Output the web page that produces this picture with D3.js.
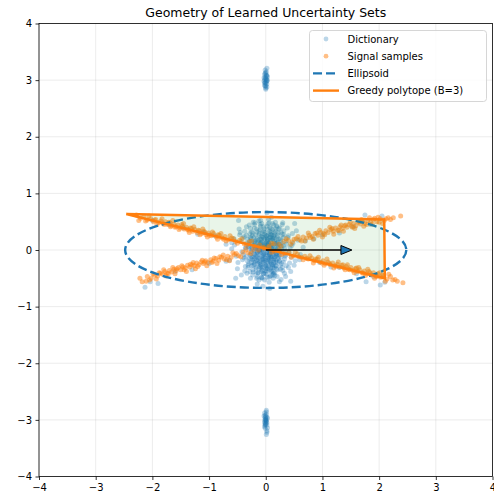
<!DOCTYPE html>
<html>
<head>
<meta charset="utf-8">
<script src="https://cdn.jsdelivr.net/npm/d3@7"></script>
<style>
  html, body { margin: 0; padding: 0; background: #fff; }
  svg { display: block; font-family: "DejaVu Sans", sans-serif; }
</style>
</head>
<body>
<svg id="chart" width="494" height="499"></svg>
<script>
// ---- data -------------------------------------------------------------
const ticks = [-4, -3, -2, -1, 0, 1, 2, 3, 4];

// dictionary atoms: dense core around the origin
const dictCore = [
[0.05,0.12],[-0.18,0.03],[0.22,-0.15],[-0.07,-0.31],[0.31,0.08],[-0.26,0.21],[0.12,0.36],[-0.04,-0.09],[0.17,0.02],[-0.35,-0.12],
[0.08,-0.22],[-0.13,0.17],[0.41,-0.05],[-0.22,-0.27],[0.02,0.25],[0.27,0.31],[-0.31,0.06],[0.14,-0.41],[-0.09,0.42],[0.36,-0.28],
[-0.44,0.15],[0.06,-0.04],[-0.16,-0.18],[0.23,0.19],[-0.02,0.07],[0.11,-0.12],[-0.28,-0.38],[0.48,0.12],[-0.11,0.29],[0.19,-0.33],
[-0.37,0.33],[0.03,-0.48],[0.29,0.45],[-0.21,-0.06],[0.09,0.14],[-0.05,-0.21],[0.34,-0.11],[-0.49,-0.22],[0.16,0.27],[-0.12,0.51],
[0.25,-0.02],[-0.33,-0.41],[0.07,0.33],[-0.19,0.11],[0.39,0.22],[-0.06,-0.36],[0.13,-0.26],[-0.27,0.38],[0.52,-0.19],[-0.01,-0.14],
[0.21,0.09],[-0.42,-0.03],[0.04,0.46],[-0.15,-0.47],[0.32,0.34],[-0.24,0.25],[0.18,-0.07],[-0.08,0.19],[0.44,-0.38],[-0.36,-0.29],
[0.01,-0.28],[0.26,0.16],[-0.17,-0.11],[0.1,0.58],[-0.55,0.09],[0.35,-0.47],[-0.03,0.03],[0.15,0.21],[-0.29,-0.16],[0.06,-0.57],
[-0.1,0.36],[0.28,-0.24],[-0.46,0.27],[0.2,0.41],[-0.23,-0.35],[0.43,0.04],[-0.04,-0.42],[0.12,0.08],[-0.32,0.19],[0.57,0.17],
[-0.14,-0.24],[0.08,0.23],[0.3,-0.36],[-0.39,-0.08],[0.02,0.15],[-0.2,0.45],[0.24,-0.09],[-0.07,-0.03],[0.47,0.29],[-0.5,-0.33],
[0.14,-0.18],[-0.26,0.02],[0.05,-0.11],[0.38,0.39],[-0.12,-0.53],[0.22,0.05],[-0.34,0.41],[0.09,-0.32],[-0.02,0.28],[0.33,-0.16],
[-0.18,-0.2],[0.61,-0.08],[-0.08,0.06],[0.17,0.49],[-0.43,-0.44],[0.27,-0.52],[-0.25,0.14],[0.04,-0.17],[0.4,0.25],[-0.16,0.32],
[0.11,-0.06],[-0.6,0.02],[0.19,0.12],[-0.05,-0.64],[0.28,0.02],[-0.3,-0.24],[0.07,0.4],[-0.21,0.22],[0.5,-0.27],[-0.11,-0.14],
[0.16,-0.45],[-0.38,0.24],[0.03,0.1],[0.23,0.37],[-0.27,-0.5],[0.45,-0.13],[-0.09,0.13],[0.13,-0.38],[-0.47,0.37],[0.31,0.22],
[-0.13,-0.07],[0.05,0.54],[-0.31,-0.31],[0.2,-0.21],[-0.01,-0.25],[0.37,0.1],[-0.22,0.49],[0.1,0.03],[-0.41,-0.17],[0.26,-0.34],
[-0.06,0.23],[0.54,0.34],[-0.17,-0.39],[0.08,-0.02],[-0.28,0.29],[0.35,-0.04],[-0.03,0.37],[0.18,-0.28],[-0.52,-0.11],[0.12,0.18],
[-0.1,-0.3],[0.29,0.28],[-0.35,0.03],[0.01,-0.37],[0.42,-0.23],[-0.19,0.07],[0.15,0.3],[-0.24,-0.13],[0.06,0.48],[-0.45,0.31],
[0.33,-0.41],[-0.08,-0.49],[0.21,0.14],[-0.29,0.44],[0.1,-0.15],[-0.14,0.02],[0.46,0.08],[-0.37,-0.37],[0.03,0.2],[0.24,-0.56],
[-0.2,-0.02],[0.14,0.44],[-0.56,0.2],[0.36,0.16],[-0.04,-0.19],[0.19,-0.1],[-0.33,0.12],[0.09,0.27],[-0.15,-0.6],[0.27,0.07],
[-0.07,0.47],[0.4,-0.31],[-0.25,-0.22],[0.04,0.01],[0.2,0.23],[-0.4,0.21],[0.13,-0.5],[-0.11,0.09],[0.3,0.48],[-0.23,-0.44],
[0.66,0.05],[-0.64,-0.18],[0.02,0.66],[0.07,-0.68],[-0.48,0.52],[0.51,0.47],[-0.53,-0.5],[0.44,-0.55],[-0.7,0.1],[0.16,-0.02]
];

// dictionary atoms: tighter inner part of the core
const dictInner = [
[0.02,-0.05],[-0.09,0.11],[0.13,0.04],[-0.04,-0.16],[0.07,0.21],[-0.15,-0.03],[0.19,-0.09],[-0.02,0.31],[0.1,-0.24],[-0.21,0.14],
[0.04,0.08],[-0.11,-0.22],[0.16,0.15],[-0.06,0.02],[0.24,-0.19],[-0.18,0.27],[0.01,-0.33],[0.09,0.38],[-0.27,-0.09],[0.21,0.26],
[-0.03,-0.06],[0.06,-0.14],[-0.13,0.06],[0.15,-0.31],[-0.08,0.24],[0.29,0.12],[-0.23,-0.17],[0.03,0.17],[-0.01,-0.41],[0.12,-0.03],
[-0.16,0.37],[0.18,0.33],[-0.3,0.1],[0.08,-0.46],[-0.05,0.14],[0.23,-0.04],[-0.12,-0.33],[0.02,0.42],[-0.2,-0.25],[0.26,-0.27],
[-0.07,-0.11],[0.11,0.27],[-0.25,0.32],[0.14,-0.16],[-0.02,0.19],[0.33,0.03],[-0.14,-0.41],[0.05,-0.27],[-0.1,0.45],[0.2,0.06],
[0.0,-0.08],[-0.19,-0.08],[0.07,0.29],[-0.09,-0.26],[0.17,-0.22],[-0.24,0.05],[0.12,0.47],[-0.04,0.33],[0.27,-0.12],[-0.32,-0.2],
[0.06,0.02],[-0.15,0.2],[0.1,-0.37],[-0.01,0.09],[0.22,0.31],[-0.28,0.16],[0.03,-0.21],[-0.07,-0.48],[0.15,0.11],[-0.11,0.01],
[0.31,-0.21],[-0.2,0.39],[0.09,0.18],[-0.03,-0.3],[0.19,0.43],[-0.17,-0.3],[0.04,0.27],[-0.36,0.04],[0.26,0.2],[-0.06,-0.17],
[0.13,-0.43],[-0.12,0.26],[0.0,0.12],[0.35,-0.09],[-0.22,-0.39],[0.08,0.1],[-0.05,-0.02],[0.16,-0.12],[-0.26,-0.03],[0.03,0.36],
[-0.14,0.13],[0.21,-0.35],[-0.09,0.52],[0.11,0.22],[-0.31,-0.27],[0.25,0.39],[-0.02,-0.53],[0.14,0.0],[-0.18,0.18],[0.06,-0.35],
[-0.08,-0.39],[0.29,-0.31],[-0.23,0.3],[0.01,0.04],[0.18,0.19],[-0.13,-0.14],[0.07,-0.07],[-0.04,0.41],[0.24,0.1],[-0.34,0.26],
[0.1,0.32],[-0.16,-0.5],[0.05,-0.19],[-0.01,0.22],[0.2,-0.47],[-0.27,0.22],[0.12,-0.29],[-0.1,-0.05],[0.32,0.27],[-0.06,0.29],
[0.17,0.37],[-0.21,-0.12],[0.02,-0.43],[-0.12,0.34],[0.28,-0.05],[-0.38,-0.14],[0.09,-0.11],[-0.03,0.05],[0.14,0.25],[-0.19,0.48]
];

// dictionary atoms: densest knot, just below the origin
const dictDense = [
[-0.05,-0.1],[0.08,-0.2],[-0.15,-0.05],[0.02,0.05],[-0.1,-0.25],[0.12,-0.02],[-0.2,-0.15],[0.05,-0.3],[-0.02,0.1],[0.15,-0.15],
[-0.08,-0.35],[0.1,0.08],[-0.18,0.02],[0.0,-0.18],[-0.12,0.12],[0.18,-0.28],[-0.25,-0.28],[0.06,-0.08],[-0.04,-0.42],[0.2,0.0],
[-0.14,-0.2],[0.03,0.18],[-0.22,0.08],[0.09,-0.38],[-0.06,0.0],[0.14,-0.22],[-0.1,0.2],[0.0,-0.28],[-0.28,-0.08],[0.22,-0.12],
[-0.03,-0.12],[0.07,0.0],[-0.17,-0.32],[0.11,-0.45],[-0.07,0.15],[0.17,0.12],[-0.21,-0.22],[0.04,-0.14],[-0.11,-0.02],[0.01,0.25],
[-0.16,0.05],[0.13,-0.32],[-0.01,-0.36],[0.19,-0.06],[-0.24,0.0],[0.05,0.12],[-0.09,-0.18],[0.1,-0.25],[-0.13,-0.4],[0.02,-0.05],
[-0.05,0.06],[0.16,-0.4],[-0.19,0.15],[0.08,-0.12],[-0.02,-0.22],[0.24,-0.2],[-0.26,-0.16],[0.0,0.02],[-0.08,-0.28],[0.12,0.2],
[-0.15,-0.12],[0.06,-0.48],[-0.04,0.22],[0.18,-0.18],[-0.3,0.05],[0.03,-0.33],[-0.12,0.0],[0.09,0.05],[-0.06,-0.5],[0.14,-0.08]
];

// dictionary atoms: narrow clusters far above and below
const dictTop = [
[0.01,3.02],[-0.02,2.95],[0.02,3.08],[0.0,2.9],[-0.01,3.12],[0.03,3.0],[-0.03,2.98],[0.01,3.15],[0.0,2.86],[0.02,2.93],
[-0.01,3.05],[0.01,2.97],[-0.02,3.1],[0.0,3.03],[0.02,2.88],[-0.01,3.18],[0.03,3.06],[-0.02,2.91],[0.01,3.0],[0.0,3.13],
[-0.03,3.04],[0.02,2.99],[0.0,2.84],[-0.01,2.96],[0.01,3.09],[0.02,3.21],[-0.02,3.01],[0.0,2.94],[0.01,3.07],[-0.01,2.89]
];
const dictBottom = [
[0.0,-3.02],[0.02,-2.95],[-0.01,-3.08],[0.01,-2.9],[-0.02,-3.12],[0.0,-3.0],[0.03,-2.97],[-0.01,-3.15],[0.01,-2.86],[-0.03,-2.93],
[0.02,-3.05],[0.0,-2.98],[-0.01,-3.1],[0.01,-3.03],[-0.02,-2.88],[0.02,-3.19],[0.0,-3.06],[-0.01,-2.92],[0.01,-3.01],[0.03,-3.14],
[-0.02,-3.04],[0.0,-2.99],[0.01,-2.83],[-0.01,-2.96],[0.02,-3.09],[0.01,-3.26],[-0.02,-3.0],[0.0,-2.94],[-0.01,-3.07],[0.02,-3.22]
];

// dictionary atoms lying along the two signal directions
const dictLines = [
[-2.0,0.52],[-1.7,0.44],[-1.45,0.39],[-1.2,0.28],[-0.9,0.25],[-0.6,0.13],[0.6,-0.17],[0.95,-0.22],[1.3,-0.31],[1.6,-0.42],
[1.9,-0.47],[2.1,-0.57],[-1.1,0.31],[1.15,-0.3],[2.02,-0.62],[1.77,-0.56],
[-2.13,-0.66],[-2.04,-0.56],[-1.9,-0.59],[-1.6,-0.38],[-1.3,-0.35],[-1.0,-0.24],[-0.7,-0.2],[0.7,0.16],[1.0,0.27],[1.3,0.3],
[1.55,0.41],[1.85,0.45],[2.05,0.6],[1.7,0.5],[0.85,0.2],[1.75,0.62]
];

// signal samples, falling direction
const signalA = [
[-2.28,0.62],[-2.21,0.56],[-2.15,0.59],[-2.09,0.53],[-2.03,0.55],[-1.98,0.5],[-1.94,0.54],[-1.89,0.48],[-1.85,0.51],[-1.81,0.47],
[-1.77,0.5],[-1.73,0.45],[-1.69,0.48],[-1.66,0.43],[-1.62,0.46],[-1.58,0.41],[-1.55,0.44],[-1.51,0.39],[-1.47,0.42],[-1.44,0.37],
[-1.4,0.4],[-1.36,0.35],[-1.33,0.39],[-1.29,0.33],[-1.25,0.36],[-1.21,0.31],[-1.17,0.34],[-1.13,0.29],[-1.09,0.33],[-1.05,0.27],
[-1.01,0.3],[-0.96,0.25],[-0.92,0.29],[-0.87,0.23],[-0.82,0.26],[-0.77,0.21],[-0.72,0.24],[-0.66,0.18],[-0.6,0.21],[-0.53,0.15],
[-0.46,0.17],[-0.38,0.11],[-0.29,0.14],[-0.2,0.07],[-0.11,0.09],[-0.03,0.03],[0.06,0.05],[0.15,-0.02],[0.24,0.01],[0.33,-0.06],
[0.41,-0.04],[0.49,-0.1],[0.56,-0.07],[0.63,-0.13],[0.69,-0.11],[0.75,-0.16],[0.81,-0.14],[0.86,-0.19],[0.91,-0.16],[0.96,-0.21],
[1.01,-0.19],[1.05,-0.24],[1.1,-0.21],[1.14,-0.26],[1.18,-0.23],[1.22,-0.28],[1.26,-0.25],[1.3,-0.3],[1.34,-0.27],[1.38,-0.32],
[1.42,-0.29],[1.46,-0.34],[1.5,-0.31],[1.54,-0.36],[1.58,-0.33],[1.62,-0.38],[1.66,-0.35],[1.7,-0.4],[1.74,-0.37],[1.78,-0.42],
[1.82,-0.38],[1.86,-0.44],[1.9,-0.4],[1.94,-0.46],[1.98,-0.42],[2.03,-0.48],[2.08,-0.45],[2.14,-0.51],[2.2,-0.47],[2.28,-0.52],
[2.42,-0.58],
[-2.12,0.51],[-1.96,0.53],[-1.79,0.45],[-1.71,0.49],[-1.6,0.4],[-1.48,0.45],[-1.38,0.36],[-1.31,0.38],[-1.19,0.35],[-1.07,0.31],
[-0.99,0.26],[-0.84,0.27],[-0.74,0.19],[-0.57,0.2],[0.58,-0.12],[0.72,-0.15],[0.88,-0.16],[0.99,-0.23],[1.12,-0.24],[1.24,-0.29],
[1.36,-0.26],[1.48,-0.35],[1.6,-0.32],[1.72,-0.41],[1.84,-0.4],[1.96,-0.47],[2.06,-0.44],[2.24,-0.53],
[-2.24,0.52],[-2.06,0.6],[-1.92,0.45],[-1.83,0.55],[-1.68,0.41],[-1.64,0.52],[-1.53,0.36],[-1.45,0.47],[-1.35,0.31],[-1.27,0.41],
[-1.16,0.27],[-1.11,0.37],[-1.03,0.23],[-0.94,0.32],[-0.85,0.19],[-0.79,0.29],[-0.7,0.16],[-0.63,0.25],[-0.5,0.12],[-0.42,0.2],
[-0.34,0.08],[-0.25,0.16],[0.1,-0.04],[0.28,-0.08],[0.45,-0.13],[0.52,-0.04],[0.66,-0.17],[0.78,-0.1],[0.84,-0.23],[0.93,-0.13],
[1.03,-0.27],[1.08,-0.16],[1.2,-0.32],[1.28,-0.21],[1.4,-0.35],[1.44,-0.26],[1.56,-0.4],[1.64,-0.31],[1.76,-0.45],[1.8,-0.34],
[1.92,-0.5],[2.01,-0.4],[2.11,-0.55],[2.17,-0.43],[2.32,-0.55]
];

// signal samples, rising direction
const signalB = [
[-2.18,-0.56],[-2.09,-0.47],[-2.02,-0.5],[-1.96,-0.44],[-1.91,-0.46],[-1.86,-0.41],[-1.82,-0.43],[-1.78,-0.38],[-1.74,-0.41],[-1.7,-0.36],
[-1.66,-0.39],[-1.62,-0.34],[-1.58,-0.36],[-1.54,-0.31],[-1.5,-0.35],[-1.46,-0.3],[-1.42,-0.32],[-1.38,-0.27],[-1.34,-0.3],[-1.3,-0.26],
[-1.26,-0.28],[-1.22,-0.23],[-1.18,-0.26],[-1.14,-0.21],[-1.1,-0.24],[-1.06,-0.19],[-1.02,-0.22],[-0.97,-0.17],[-0.93,-0.2],[-0.88,-0.15],
[-0.83,-0.18],[-0.78,-0.13],[-0.73,-0.16],[-0.67,-0.11],[-0.61,-0.13],[-0.55,-0.08],[-0.48,-0.1],[-0.4,-0.04],[-0.31,-0.05],[-0.22,0.01],
[-0.13,0.0],[-0.04,0.05],[0.05,0.06],[0.14,0.11],[0.23,0.1],[0.32,0.15],[0.4,0.17],[0.47,0.14],[0.54,0.2],[0.6,0.18],
[0.66,0.23],[0.72,0.21],[0.77,0.26],[0.82,0.24],[0.87,0.29],[0.92,0.26],[0.97,0.31],[1.02,0.29],[1.06,0.34],[1.1,0.31],
[1.15,0.36],[1.19,0.33],[1.23,0.39],[1.27,0.35],[1.31,0.41],[1.35,0.38],[1.39,0.43],[1.43,0.4],[1.47,0.45],[1.51,0.42],
[1.55,0.47],[1.59,0.43],[1.63,0.49],[1.67,0.46],[1.71,0.51],[1.75,0.47],[1.8,0.52],[1.85,0.49],[1.9,0.54],[1.96,0.5],
[2.02,0.55],[2.09,0.52],[2.16,0.57],[2.25,0.57],
[-2.05,-0.53],[-1.88,-0.4],[-1.72,-0.42],[-1.57,-0.33],[-1.44,-0.35],[-1.33,-0.25],[-1.2,-0.29],[-1.08,-0.21],[-0.95,-0.22],[-0.81,-0.12],
[-0.69,-0.17],[-0.52,-0.06],[0.5,0.19],[0.63,0.16],[0.79,0.22],[0.9,0.3],[1.04,0.27],[1.17,0.38],[1.29,0.34],[1.41,0.44],
[1.53,0.4],[1.65,0.5],[1.78,0.45],[1.92,0.56],[2.0,0.49],[2.12,0.55],
[-2.22,-0.5],[-2.11,-0.55],[-1.99,-0.42],[-1.93,-0.51],[-1.8,-0.35],[-1.76,-0.46],[-1.64,-0.31],[-1.6,-0.42],[-1.48,-0.28],[-1.4,-0.38],
[-1.28,-0.22],[-1.24,-0.33],[-1.12,-0.18],[-1.04,-0.28],[-0.91,-0.14],[-0.86,-0.24],[-0.75,-0.09],[-0.64,-0.19],[-0.58,-0.05],[-0.44,-0.12],
[-0.35,0.0],[-0.26,-0.06],[0.1,0.12],[0.27,0.07],[0.36,0.2],[0.44,0.1],[0.57,0.24],[0.69,0.16],[0.75,0.3],[0.84,0.19],
[0.95,0.35],[1.0,0.23],[1.13,0.4],[1.2,0.28],[1.33,0.44],[1.37,0.33],[1.49,0.49],[1.57,0.38],[1.69,0.54],[1.73,0.42],
[1.83,0.57],[1.88,0.46],[1.98,0.58],[2.06,0.47],[2.2,0.54],[2.38,0.6]
];

// ellipsoidal uncertainty set: centre and semi-axes
const ellipseCenter = [0.0, 0.0];
const ellipseRadii = [2.48, 0.67];

// greedy polytope vertices (B = 3)
const polytope = [[-2.46, 0.635], [2.09, 0.54], [2.10, -0.50]];

// direction arrow from the origin
const arrowFrom = [0, 0];
const arrowTo = [1.52, 0];

const legendItems = [
  { label: "Dictionary", kind: "dot", color: "#1f77b4", opacity: 0.3 },
  { label: "Signal samples", kind: "dot", color: "#ff7f0e", opacity: 0.5 },
  { label: "Ellipsoid", kind: "dash", color: "#1f77b4" },
  { label: "Greedy polytope (B=3)", kind: "line", color: "#ff7f0e" }
];

// ---- layout -----------------------------------------------------------
const svg = d3.select("#chart");
const plotL = 39, plotR = 492.5, plotT = 23.5, plotB = 476.5;
const x = d3.scaleLinear().domain([-4, 4]).range([plotL, plotR]);
const y = d3.scaleLinear().domain([-4, 4]).range([plotB, plotT]);

const blue = "#1f77b4", orange = "#ff7f0e";

// grid
const grid = svg.append("g");
grid.selectAll(".gx").data(ticks).join("line").attr("class", "gx")
  .attr("x1", d => x(d)).attr("x2", d => x(d))
  .attr("y1", plotT).attr("y2", plotB)
  .attr("stroke", "#b0b0b0").attr("stroke-opacity", 0.3).attr("stroke-width", 0.8);
grid.selectAll(".gy").data(ticks).join("line").attr("class", "gy")
  .attr("y1", d => y(d)).attr("y2", d => y(d))
  .attr("x1", plotL).attr("x2", plotR)
  .attr("stroke", "#b0b0b0").attr("stroke-opacity", 0.3).attr("stroke-width", 0.8);

// clip to the axes area
svg.append("clipPath").attr("id", "plotclip")
  .append("rect").attr("x", plotL).attr("y", plotT)
  .attr("width", plotR - plotL).attr("height", plotB - plotT);
const plot = svg.append("g").attr("clip-path", "url(#plotclip)");

// dictionary scatter
const dictAll = dictCore.concat(dictInner, dictDense, dictTop, dictBottom, dictLines);
plot.append("g").selectAll("circle").data(dictAll).join("circle")
  .attr("cx", d => x(d[0])).attr("cy", d => y(d[1])).attr("r", 2.5)
  .attr("fill", blue).attr("fill-opacity", 0.3);

// signal scatter
const sigAll = signalA.concat(signalB);
plot.append("g").selectAll("circle").data(sigAll).join("circle")
  .attr("cx", d => x(d[0])).attr("cy", d => y(d[1])).attr("r", 2.5)
  .attr("fill", orange).attr("fill-opacity", 0.5);

// ellipsoid
plot.append("ellipse")
  .attr("cx", x(ellipseCenter[0])).attr("cy", y(ellipseCenter[1]))
  .attr("rx", x(ellipseRadii[0]) - x(0)).attr("ry", y(0) - y(ellipseRadii[1]))
  .attr("fill", "none").attr("stroke", blue).attr("stroke-width", 2.4)
  .attr("stroke-dasharray", "9,4");

// polytope
const poly = d3.line().x(d => x(d[0])).y(d => y(d[1]));
plot.append("path")
  .attr("d", poly(polytope) + "Z")
  .attr("fill", "#2ca02c").attr("fill-opacity", 0.1)
  .attr("stroke", orange).attr("stroke-width", 2.5).attr("stroke-linejoin", "miter");

// arrow
const ax0 = x(arrowFrom[0]), ay0 = y(arrowFrom[1]);
const ax1 = x(arrowTo[0]), ay1 = y(arrowTo[1]);
const headLen = 11, headHalf = 4.5;
plot.append("line")
  .attr("x1", ax0).attr("y1", ay0).attr("x2", ax1 - headLen).attr("y2", ay1)
  .attr("stroke", "#000").attr("stroke-width", 1.5);
plot.append("path")
  .attr("d", `M${ax1},${ay1} L${ax1 - headLen},${ay1 - headHalf} L${ax1 - headLen},${ay1 + headHalf} Z`)
  .attr("fill", blue).attr("stroke", "#000").attr("stroke-width", 1);

// spines
svg.append("rect").attr("x", plotL).attr("y", plotT)
  .attr("width", plotR - plotL).attr("height", plotB - plotT)
  .attr("fill", "none").attr("stroke", "#000").attr("stroke-width", 0.8);

// axes
const fmt = d3.format("d");
const xAxis = svg.append("g").attr("transform", `translate(0,${plotB})`)
  .call(d3.axisBottom(x).tickValues(ticks).tickSize(3.5).tickPadding(3.5).tickFormat(fmt));
const yAxis = svg.append("g").attr("transform", `translate(${plotL},0)`)
  .call(d3.axisLeft(y).tickValues(ticks).tickSize(3.5).tickPadding(3.5).tickFormat(fmt));
[xAxis, yAxis].forEach(g => {
  g.select(".domain").remove();
  g.selectAll(".tick line").attr("stroke", "#000").attr("stroke-width", 0.8);
  g.selectAll(".tick text").attr("fill", "#000")
    .style("font-family", "'DejaVu Sans', sans-serif").style("font-size", "10px");
});

// title
svg.append("text").attr("x", (plotL + plotR) / 2).attr("y", 17)
  .attr("text-anchor", "middle").style("font-size", "12.5px").attr("fill", "#000")
  .text("Geometry of Learned Uncertainty Sets");

// legend
const lg = svg.append("g");
lg.append("rect").attr("x", 309.5).attr("y", 30.5).attr("width", 177).attr("height", 71)
  .attr("rx", 3).attr("fill", "#fff").attr("fill-opacity", 0.8)
  .attr("stroke", "#cccccc").attr("stroke-width", 0.8);
const row = lg.selectAll("g.row").data(legendItems).join("g").attr("class", "row")
  .attr("transform", (d, i) => `translate(0,${39 + i * 17.2})`);
row.each(function(d) {
  const g = d3.select(this);
  if (d.kind === "dot") {
    g.append("circle").attr("cx", 326).attr("cy", 0).attr("r", 2.4)
      .attr("fill", d.color).attr("fill-opacity", d.opacity);
  } else {
    g.append("line").attr("x1", 313).attr("x2", 339).attr("y1", 0).attr("y2", 0)
      .attr("stroke", d.color).attr("stroke-width", 2.4)
      .attr("stroke-dasharray", d.kind === "dash" ? "9,4" : null);
  }
  g.append("text").attr("x", 347.5).attr("y", 3.7).style("font-size", "10px")
    .attr("fill", "#000").text(d.label);
});
</script>
</body>
</html>
